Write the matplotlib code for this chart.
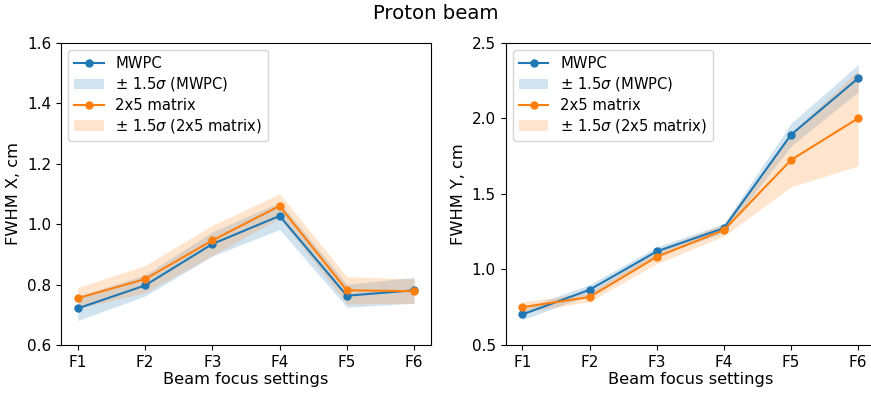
import matplotlib
matplotlib.use("Agg")
import matplotlib.pyplot as plt
import numpy as np

focus = ["F1", "F2", "F3", "F4", "F5", "F6"]

mwpc_x = [0.721, 0.797, 0.934, 1.027, 0.763, 0.781]
mwpc_x_err = [0.040, 0.035, 0.040, 0.045, 0.038, 0.043]
matrix_x = [0.755, 0.818, 0.946, 1.060, 0.781, 0.778]
matrix_x_err = [0.035, 0.045, 0.050, 0.040, 0.045, 0.040]

mwpc_y = [0.702, 0.865, 1.119, 1.273, 1.891, 2.265]
mwpc_y_err = [0.035, 0.035, 0.030, 0.030, 0.075, 0.090]
matrix_y = [0.750, 0.817, 1.083, 1.260, 1.724, 2.000]
matrix_y_err = [0.035, 0.030, 0.045, 0.040, 0.177, 0.316]

plt.rcParams['font.size'] = 11
plt.rcParams['xtick.labelsize'] = 11
plt.rcParams['ytick.labelsize'] = 11
plt.rcParams['axes.labelsize'] = 11.7
plt.rcParams['legend.fontsize'] = 10.6
plt.rcParams['legend.labelspacing'] = 0.3
fig = plt.figure(figsize=(8.71, 3.94), dpi=100)
ax1 = fig.add_axes([0.0700, 0.1244, 0.4248, 0.7673])
ax2 = fig.add_axes([0.5804, 0.1244, 0.4242, 0.7673])

def draw(ax, a, ae, b, be, ylabel, ylim, yticks):
    x = np.arange(len(focus))
    a = np.array(a); ae = np.array(ae); b = np.array(b); be = np.array(be)
    ax.plot(x, a, marker='o', color='C0', label='MWPC', markersize=5)
    ax.fill_between(x, a - ae, a + ae, color='C0', alpha=0.2, linewidth=0,
                    label=r'$\pm$ 1.5$\sigma$ (MWPC)')
    ax.plot(x, b, marker='o', color='C1', label='2x5 matrix', markersize=5)
    ax.fill_between(x, b - be, b + be, color='C1', alpha=0.2, linewidth=0,
                    label=r'$\pm$ 1.5$\sigma$ (2x5 matrix)')
    ax.set_xticks(x)
    ax.set_xticklabels(focus)
    ax.set_ylim(*ylim)
    ax.set_yticks(yticks)
    ax.set_xlabel('Beam focus settings', labelpad=2)
    ax.set_ylabel(ylabel)
    ax.legend(loc='upper left')

draw(ax1, mwpc_x, mwpc_x_err, matrix_x, matrix_x_err, 'FWHM X, cm', (0.6, 1.6),
     [0.6, 0.8, 1.0, 1.2, 1.4, 1.6])
draw(ax2, mwpc_y, mwpc_y_err, matrix_y, matrix_y_err, 'FWHM Y, cm', (0.5, 2.5),
     [0.5, 1.0, 1.5, 2.0, 2.5])

fig.suptitle('Proton beam', y=0.99, fontsize=14.2)
fig.savefig('out.png', dpi=100)
